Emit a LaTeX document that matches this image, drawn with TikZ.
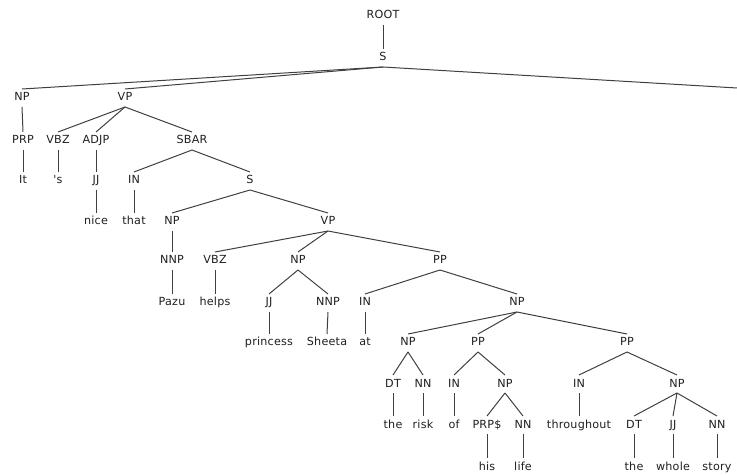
\documentclass[tikz,border=0pt]{standalone}
\usepackage{fontspec}
\newfontfamily\treefont[LetterSpace=2]{DejaVu Sans}
\begin{document}
\begin{tikzpicture}[x=1bp,y=-1bp,
  t/.style={anchor=base,yshift=-4bp,inner xsep=1bp,inner ysep=3.5bp,
    text height=8.3bp,text depth=2.3bp,text=black!88,
    font=\treefont\fontsize{11.2}{13}\selectfont},
  br/.style={draw=black!75,line width=1bp}]
\useasboundingbox (0,0) rectangle (737,475);
% nodes
\node[t] (root) at (383,15) {ROOT};
\node[t] (s) at (383,57) {S};
\node[t] (np1) at (22,97) {NP};
\node[t] (vp1) at (125,97) {VP};
\coordinate (dot) at (737,88);
\node[t] (prp) at (23,140) {PRP};
\node[t] (vbz1) at (58,140) {VBZ};
\node[t] (adjp) at (96,140) {ADJP};
\node[t] (sbar) at (192,140) {SBAR};
\node[t] (wit) at (23,180) {It};
\node[t] (ws) at (58,180) {'s};
\node[t] (jj1) at (96,180) {JJ};
\node[t] (in1) at (134,180) {IN};
\node[t] (s2) at (250,180) {S};
\node[t] (wnice) at (96,221) {nice};
\node[t] (wthat) at (134,221) {that};
\node[t] (np2) at (172,221) {NP};
\node[t] (vp2) at (328,221) {VP};
\node[t] (nnp1) at (172,260) {NNP};
\node[t] (vbz2) at (215,260) {VBZ};
\node[t] (np3) at (298,260) {NP};
\node[t] (pp1) at (440,260) {PP};
\node[t] (wpazu) at (172,302) {Pazu};
\node[t] (whelps) at (215,302) {helps};
\node[t] (jj2) at (269,302) {JJ};
\node[t] (nnp2) at (328,302) {NNP};
\node[t] (in2) at (365,302) {IN};
\node[t] (np4) at (517,302) {NP};
\node[t] (wprincess) at (269,342) {princess};
\node[t] (wsheeta) at (327,342) {Sheeta};
\node[t] (wat) at (365,342) {at};
\node[t] (np5) at (408,342) {NP};
\node[t] (pp2) at (478,342) {PP};
\node[t] (pp3) at (627,342) {PP};
\node[t] (dt1) at (393,383) {DT};
\node[t] (nn1) at (423,383) {NN};
\node[t] (in3) at (454,383) {IN};
\node[t] (np6) at (505,383) {NP};
\node[t] (in4) at (579,383) {IN};
\node[t] (np7) at (677,383) {NP};
\node[t] (wthe1) at (393,424) {the};
\node[t] (wrisk) at (423,424) {risk};
\node[t] (wof) at (454,424) {of};
\node[t] (prps) at (487,424) {PRP\$};
\node[t] (nn2) at (523,424) {NN};
\node[t] (wthroughout) at (579,424) {throughout};
\node[t] (dt2) at (634,424) {DT};
\node[t] (jj3) at (673,424) {JJ};
\node[t] (nn3) at (717,424) {NN};
\node[t] (whis) at (487,466) {his};
\node[t] (wlife) at (523,466) {life};
\node[t] (wthe2) at (634,466) {the};
\node[t] (wwhole) at (673,466) {whole};
\node[t] (wstory) at (717,466) {story};
% branches
\foreach \p/\c in {root/s, s/np1, s/vp1,
  np1/prp, vp1/vbz1, vp1/adjp, vp1/sbar,
  prp/wit, vbz1/ws, adjp/jj1, sbar/in1, sbar/s2,
  jj1/wnice, in1/wthat, s2/np2, s2/vp2,
  np2/nnp1, vp2/vbz2, vp2/np3, vp2/pp1,
  nnp1/wpazu, vbz2/whelps, np3/jj2, np3/nnp2, pp1/in2, pp1/np4,
  jj2/wprincess, nnp2/wsheeta, in2/wat, np4/np5, np4/pp2, np4/pp3,
  np5/dt1, np5/nn1, pp2/in3, pp2/np6, pp3/in4, pp3/np7,
  dt1/wthe1, nn1/wrisk, in3/wof, np6/prps, np6/nn2, in4/wthroughout,
  np7/dt2, np7/jj3, np7/nn3,
  prps/whis, nn2/wlife, dt2/wthe2, jj3/wwhole, nn3/wstory}
  \draw[br] (\p.south) -- (\c.north);
\draw[br] (s.south) -- (dot);
\end{tikzpicture}
\end{document}
